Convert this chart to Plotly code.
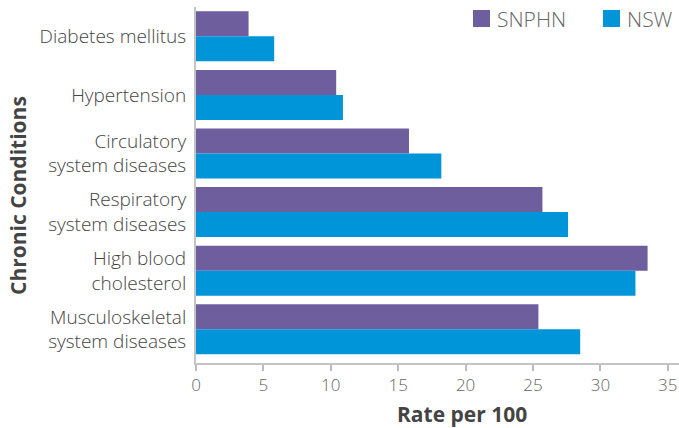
import plotly.graph_objects as go

categories = ["Diabetes mellitus", "Hypertension", "Circulatory<br>system diseases",
              "Respiratory<br>system diseases", "High blood<br>cholesterol",
              "Musculoskeletal<br>system diseases"]
snphn = [3.9, 10.4, 15.8, 25.7, 33.5, 25.4]
nsw = [5.8, 10.9, 18.2, 27.6, 32.6, 28.5]
series_names = ["SNPHN", "NSW"]
colors = ["#6E5E9E", "#0094D9"]
x_ticks = [0, 5, 10, 15, 20, 25, 30, 35]

FONT = "Open Sans"

fig = go.Figure()
for name, vals, col in zip(series_names, [snphn, nsw], colors):
    fig.add_trace(go.Bar(y=categories, x=vals, name=name, orientation="h",
                         marker=dict(color=col, line=dict(width=0)), showlegend=False))

fig.update_layout(
    width=679, height=428,
    margin=dict(l=196, r=0, t=7, b=65, autoexpand=False),
    paper_bgcolor="white", plot_bgcolor="white",
    barmode="group", bargap=0.147, bargroupgap=0,
    font=dict(family=FONT, color="#555555"),
    xaxis=dict(range=[0, 35.83], tickvals=x_ticks, ticks="outside", ticklen=6,
               tickcolor="#bbbbbb", tickwidth=1.5, showline=True, linecolor="#c4c4c4",
               linewidth=2, showgrid=False, zeroline=False, automargin=False,
               tickfont=dict(size=17, color="#666666", family=FONT, weight=300)),
    yaxis=dict(type="category", range=[5.575, -0.5], showline=True, linecolor="#c4c4c4",
               linewidth=2, showgrid=False, ticks="", ticklabelstandoff=4, automargin=False,
               tickfont=dict(size=19, color="#444444", family=FONT, weight=300)),
)

# axis titles
fig.add_annotation(text="<b>Rate per 100</b>", xref="paper", yref="paper",
                   x=(462 - 196) / 483, y=-(414 - 363) / 356, showarrow=False,
                   font=dict(size=21, color="#444444", family=FONT), borderpad=0,
                   xanchor="center", yanchor="middle")
fig.add_annotation(text="<b>Chronic Conditions</b>", xref="paper", yref="paper",
                   x=-(196 - 18) / 483, y=(363 - 196) / 356, showarrow=False, textangle=-90,
                   font=dict(size=21, color="#444444", family=FONT),
                   xanchor="center", yanchor="middle")

# legend
leg = [(473, series_names[0], colors[0]), (603, series_names[1], colors[1])]
for x0, name, col in leg:
    fig.add_shape(type="rect", xref="paper", yref="paper",
                  x0=(x0 - 196) / 483, x1=(x0 + 17 - 196) / 483,
                  y0=(363 - 27) / 356, y1=(363 - 10) / 356,
                  fillcolor=col, line=dict(width=0))
    fig.add_annotation(text=name, xref="paper", yref="paper",
                       x=(x0 + 22 - 196) / 483, y=(363 - 18.5) / 356, showarrow=False,
                       xanchor="left", yanchor="middle",
                       font=dict(size=21, color="#666666", family=FONT, weight=300))

fig.write_html("out.html", config={"displayModeBar": False},
               post_script="document.body.style.margin='0';document.body.style.overflow='hidden';")
